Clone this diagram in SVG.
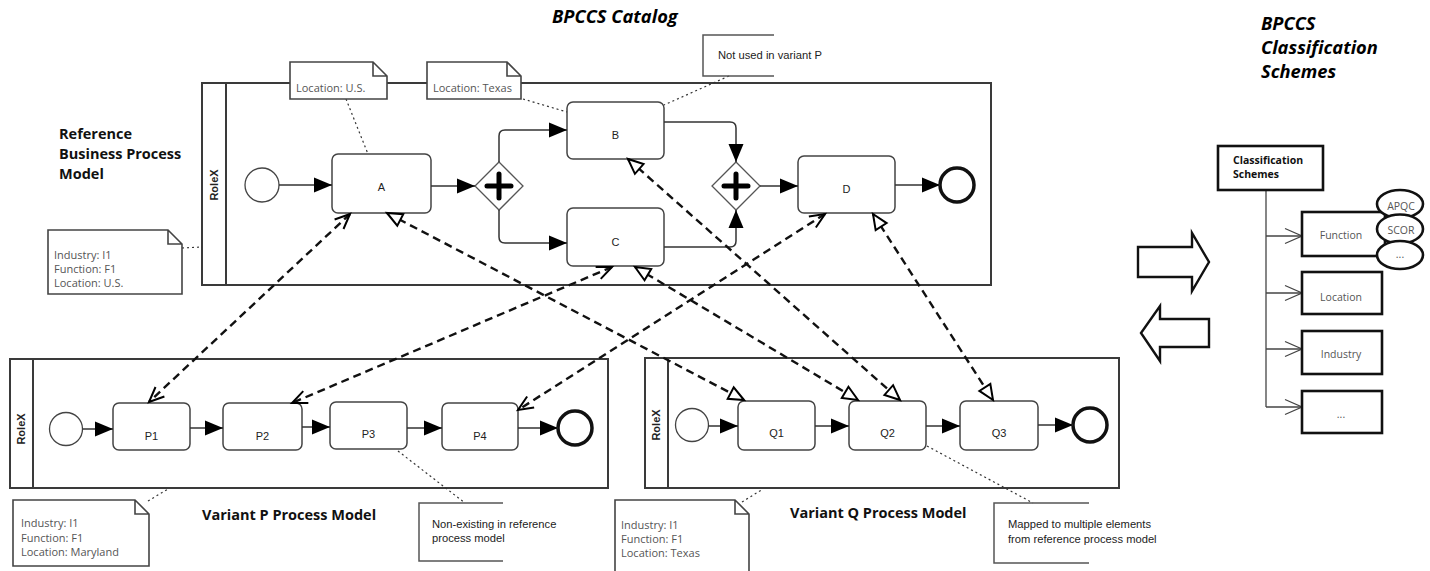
<svg xmlns="http://www.w3.org/2000/svg" width="1430" height="571" viewBox="0 0 1430 571">
  <style>
    .pool { fill: none; stroke: #3a3a3a; stroke-width: 2; }
    .task { fill: #fff; stroke: #444; stroke-width: 1.5; }
    .start { fill: #fff; stroke: #444; stroke-width: 1.3; }
    .end { fill: #fff; stroke: #111; stroke-width: 3.5; }
    .gw { fill: #fff; stroke: #555; stroke-width: 1.3; }
    .plus { stroke: #000; stroke-width: 5; stroke-linecap: round; fill: none; }
    .flow { fill: none; stroke: #333; stroke-width: 1.5; marker-end: url(#seq); }
    .map { fill: none; stroke: #111; stroke-width: 2.4; stroke-dasharray: 8 5; }
    .mv { marker-start: url(#vee); marker-end: url(#vee); }
    .mt { marker-start: url(#tri); marker-end: url(#tri); }
    .assoc { fill: none; stroke: #333; stroke-width: 1.2; stroke-dasharray: 2 3; }
    .note { fill: #fff; stroke: #444; stroke-width: 1.6; }
    .bracket { fill: none; stroke: #555; stroke-width: 1.5; }
    .lbl { font-family: "Liberation Sans", Arial, sans-serif; font-size: 11px; fill: #222; text-anchor: middle; }
    .ntxt { font-family: "Open Sans", "Noto Sans", sans-serif; font-size: 11px; fill: #555; }
    .btxt { font-family: "Liberation Sans", Arial, sans-serif; font-size: 11.2px; fill: #222; }
    .role { font-family: "Liberation Sans", Arial, sans-serif; font-size: 11px; font-weight: bold; fill: #222; text-anchor: middle; }
    .title { font-family: "Open Sans", "Noto Sans", sans-serif; font-size: 18.3px; font-weight: bold; font-style: italic; fill: #000; }
    .head { font-family: "Open Sans", "Noto Sans", sans-serif; font-size: 14.5px; font-weight: bold; fill: #111; }
    .cbox { fill: #fff; stroke: #111; stroke-width: 2.6; }
    .ctxt { font-family: "Open Sans", "Noto Sans", sans-serif; font-size: 10.5px; fill: #555; text-anchor: middle; }
    .tree { fill: none; stroke: #444; stroke-width: 1.3; }
    .branch { fill: none; stroke: #444; stroke-width: 1.3; marker-end: url(#open); }
    .block { fill: #fff; stroke: #111; stroke-width: 2.4; stroke-linejoin: miter; }
  </style>
  <defs>
    <marker id="seq" markerUnits="userSpaceOnUse" viewBox="-19 -8 20 16" refX="0" refY="0" markerWidth="20" markerHeight="16" orient="auto" overflow="visible">
      <path d="M0,0 L-18,-7.5 L-18,7.5 Z" fill="#000"/>
    </marker>
    <marker id="vee" markerUnits="userSpaceOnUse" viewBox="-16 -8 18 16" refX="0" refY="0" markerWidth="18" markerHeight="16" orient="auto-start-reverse" overflow="visible">
      <path d="M-15,-6.5 L0,0 L-15,6.5" fill="none" stroke="#000" stroke-width="2"/>
    </marker>
    <marker id="tri" markerUnits="userSpaceOnUse" viewBox="-16 -8 18 16" refX="0" refY="0" markerWidth="18" markerHeight="16" orient="auto-start-reverse" overflow="visible">
      <path d="M0,0 L-15,-6.5 L-15,6.5 Z" fill="#fff" stroke="#000" stroke-width="2"/>
    </marker>
    <marker id="open" markerUnits="userSpaceOnUse" viewBox="-18 -9 20 18" refX="0" refY="0" markerWidth="20" markerHeight="18" orient="auto" overflow="visible">
      <path d="M-17,-7.5 L0,0 L-17,7.5" fill="none" stroke="#444" stroke-width="1.3"/>
    </marker>
  </defs>

  <rect width="1430" height="571" fill="#fff"/>

  <!-- headings -->
  <text class="title" x="552" y="23">BPCCS Catalog</text>
  <g class="title">
    <text x="1261" y="30">BPCCS</text>
    <text x="1261" y="54">Classification</text>
    <text x="1261" y="78">Schemes</text>
  </g>
  <g class="head">
    <text x="59" y="139">Reference</text>
    <text x="59" y="159">Business Process</text>
    <text x="59" y="179">Model</text>
    <text x="202" y="520">Variant P Process Model</text>
    <text x="790" y="518">Variant Q Process Model</text>
  </g>

  <!-- reference process pool -->
  <g id="pool-ref">
    <rect class="pool" x="202" y="83" width="789" height="202"/>
    <line class="pool" x1="226" y1="83" x2="226" y2="285"/>
    <text class="role" transform="translate(218,185) rotate(-90)">RoleX</text>
  </g>
  <g id="ref-start"><circle class="start" cx="262" cy="185" r="17"/></g>
  <g id="task-a"><rect class="task" x="332" y="154" width="99" height="59" rx="6"/><text class="lbl" x="381.5" y="191">A</text></g>
  <g id="gw-split">
    <polygon class="gw" points="499,162 523,186 499,210 475,186"/>
    <path class="plus" d="M499,174 V198 M487,186 H511"/>
  </g>
  <g id="task-b"><rect class="task" x="567" y="102" width="97" height="57" rx="6"/><text class="lbl" x="615.5" y="139">B</text></g>
  <g id="task-c"><rect class="task" x="567" y="208" width="97" height="58" rx="6"/><text class="lbl" x="615.5" y="246">C</text></g>
  <g id="gw-join">
    <polygon class="gw" points="736,162 760,186 736,210 712,186"/>
    <path class="plus" d="M736,174 V198 M724,186 H748"/>
  </g>
  <g id="task-d"><rect class="task" x="798" y="156" width="97" height="57" rx="6"/><text class="lbl" x="846.5" y="193">D</text></g>
  <g id="ref-end"><circle class="end" cx="957" cy="185" r="17"/></g>

  <!-- variant P pool -->
  <g id="pool-p">
    <rect class="pool" x="10" y="359" width="598" height="129"/>
    <line class="pool" x1="33" y1="359" x2="33" y2="488"/>
    <text class="role" transform="translate(25,429) rotate(-90)">RoleX</text>
  </g>
  <g id="p-start"><circle class="start" cx="66" cy="429" r="16.5"/></g>
  <g id="task-p1"><rect class="task" x="113" y="403" width="77" height="47" rx="6"/><text class="lbl" x="151.5" y="440">P1</text></g>
  <g id="task-p2"><rect class="task" x="223" y="403" width="79" height="47" rx="6"/><text class="lbl" x="262.5" y="440">P2</text></g>
  <g id="task-p3"><rect class="task" x="330" y="402" width="77" height="47" rx="6"/><text class="lbl" x="368.5" y="438">P3</text></g>
  <g id="task-p4"><rect class="task" x="442" y="403" width="76" height="47" rx="6"/><text class="lbl" x="480" y="440">P4</text></g>
  <g id="p-end"><circle class="end" cx="575" cy="428" r="17"/></g>

  <!-- variant Q pool -->
  <g id="pool-q">
    <rect class="pool" x="645" y="358" width="474" height="130"/>
    <line class="pool" x1="668" y1="358" x2="668" y2="488"/>
    <text class="role" transform="translate(660,425) rotate(-90)">RoleX</text>
  </g>
  <g id="q-start"><circle class="start" cx="692" cy="425" r="16.5"/></g>
  <g id="task-q1"><rect class="task" x="738" y="401" width="77" height="49" rx="6"/><text class="lbl" x="776.5" y="437">Q1</text></g>
  <g id="task-q2"><rect class="task" x="849" y="401" width="77" height="49" rx="6"/><text class="lbl" x="887.5" y="437">Q2</text></g>
  <g id="task-q3"><rect class="task" x="960" y="401" width="78" height="49" rx="6"/><text class="lbl" x="999" y="437">Q3</text></g>
  <g id="q-end"><circle class="end" cx="1090" cy="425" r="17"/></g>

  <!-- connectors -->
  <g id="connectors">
    <!-- sequence flows -->
    <path class="flow" d="M279,185 H332"/>
    <path class="flow" d="M431,186 H475"/>
    <path class="flow" d="M499,162 V136 Q499,130 505,130 H567"/>
    <path class="flow" d="M499,210 V237 Q499,243 505,243 H567"/>
    <path class="flow" d="M664,122 H730 Q736,122 736,128 V162"/>
    <path class="flow" d="M664,247 H730 Q736,247 736,241 V210"/>
    <path class="flow" d="M760,186 H798"/>
    <path class="flow" d="M895,185 H940"/>

    <path class="flow" d="M82.5,429 H113"/>
    <path class="flow" d="M190,428 H223"/>
    <path class="flow" d="M302,427 H330"/>
    <path class="flow" d="M407,428 H442"/>
    <path class="flow" d="M518,428 H558"/>

    <path class="flow" d="M708.5,426 H738"/>
    <path class="flow" d="M815,426 H849"/>
    <path class="flow" d="M926,426 H960"/>
    <path class="flow" d="M1038,425 H1073"/>

    <!-- associations to annotations -->
    <path class="assoc" d="M346,99 L368,154"/>
    <path class="assoc" d="M523,99 L567,112"/>
    <path class="assoc" d="M729,76 L664,105"/>
    <path class="assoc" d="M182,248 L202,247"/>
    <path class="assoc" d="M148,501 L168,489"/>
    <path class="assoc" d="M398,451 L465,503"/>
    <path class="assoc" d="M742,502 L763,489"/>
    <path class="assoc" d="M927,446 L1033,503"/>

    <!-- element mappings -->
    <path class="map mv" d="M350,214 L149,402"/>
    <path class="map mv" d="M612,267 L292,403"/>
    <path class="map mv" d="M825,214 L518,410"/>
    <path class="map mt" d="M387,213 L744,400"/>
    <path class="map mt" d="M628,159 L900,400"/>
    <path class="map mt" d="M635,267 L858,400"/>
    <path class="map mt" d="M873,214 L993,400"/>

    <!-- classification tree -->
    <path class="tree" d="M1266,190 V407"/>
    <path class="branch" d="M1266,236 H1302"/>
    <path class="branch" d="M1266,293 H1302"/>
    <path class="branch" d="M1266,349 H1302"/>
    <path class="branch" d="M1266,407 H1302"/>
  </g>

  <!-- annotations -->
  <g id="note-us">
    <path class="note" d="M290,62 H373 L387,76 V99 H290 Z M373,62 V76 H387"/>
    <text class="ntxt" x="296" y="92">Location: U.S.</text>
  </g>
  <g id="note-texas">
    <path class="note" d="M427,62 H507 L521,76 V99 H427 Z M507,62 V76 H521"/>
    <text class="ntxt" x="433" y="92">Location: Texas</text>
  </g>
  <g id="note-unused">
    <path class="bracket" d="M774,35 H703 V76 H774"/>
    <text class="btxt" x="718" y="59">Not used in variant P</text>
  </g>
  <g id="note-ref">
    <path class="note" d="M48,230 H168 L182,244 V294 H48 Z M168,230 V244 H182"/>
    <text class="ntxt" x="54" y="259">Industry: I1</text>
    <text class="ntxt" x="54" y="273">Function: F1</text>
    <text class="ntxt" x="54" y="287">Location: U.S.</text>
  </g>
  <g id="note-p">
    <path class="note" d="M13,500 H135 L149,514 V566 H13 Z M135,500 V514 H149"/>
    <text class="ntxt" x="21" y="527">Industry: I1</text>
    <text class="ntxt" x="21" y="542">Function: F1</text>
    <text class="ntxt" x="21" y="556">Location: Maryland</text>
  </g>
  <g id="note-nonexisting">
    <path class="bracket" d="M503,503 H419 V561 H503"/>
    <text class="btxt" x="432" y="528">Non-existing in reference</text>
    <text class="btxt" x="432" y="542">process model</text>
  </g>
  <g id="note-q">
    <path class="note" d="M615,500 H735 L749,514 V580 H615 Z M735,500 V514 H749"/>
    <text class="ntxt" x="621" y="529">Industry: I1</text>
    <text class="ntxt" x="621" y="543">Function: F1</text>
    <text class="ntxt" x="621" y="557">Location: Texas</text>
  </g>
  <g id="note-mapped">
    <path class="bracket" d="M1089,503 H994 V563 H1089"/>
    <text class="btxt" x="1008" y="528">Mapped to multiple elements</text>
    <text class="btxt" x="1008" y="543">from reference process model</text>
  </g>

  <!-- exchange arrows -->
  <g id="arrow-to-schemes">
    <polygon class="block" points="1138,247 1192,247 1192,233 1209,262 1192,291 1192,277 1138,277"/>
  </g>
  <g id="arrow-from-schemes">
    <polygon class="block" points="1209,319 1160,319 1160,306 1141,333 1160,361 1160,347 1209,347"/>
  </g>

  <!-- classification schemes -->
  <g id="schemes-root">
    <rect class="cbox" x="1218" y="146" width="105" height="44"/>
    <text x="1233" y="164" font-family="'Open Sans', 'Noto Sans', sans-serif" font-size="10.5" font-weight="bold" fill="#111">Classification</text>
    <text x="1233" y="178" font-family="'Open Sans', 'Noto Sans', sans-serif" font-size="10.5" font-weight="bold" fill="#111">Schemes</text>
  </g>
  <g id="scheme-function">
    <rect class="cbox" x="1302" y="212" width="83" height="44"/>
    <text class="ctxt" x="1341" y="239">Function</text>
  </g>
  <g id="scheme-location">
    <rect class="cbox" x="1302" y="272" width="80" height="42"/>
    <text class="ctxt" x="1341" y="301">Location</text>
  </g>
  <g id="scheme-industry">
    <rect class="cbox" x="1302" y="331" width="80" height="43"/>
    <text class="ctxt" x="1341" y="358">Industry</text>
  </g>
  <g id="scheme-more">
    <rect class="cbox" x="1302" y="391" width="80" height="42"/>
    <text class="ctxt" x="1341" y="418">...</text>
  </g>
  <g id="std-apqc">
    <ellipse class="cbox" cx="1400" cy="204" rx="23" ry="14" stroke-width="2.2"/>
    <text class="ctxt" x="1401" y="210">APQC</text>
  </g>
  <g id="std-scor">
    <ellipse class="cbox" cx="1400" cy="229" rx="23" ry="14.5" stroke-width="2.2"/>
    <text class="ctxt" x="1401" y="234">SCOR</text>
  </g>
  <g id="std-more">
    <ellipse class="cbox" cx="1400" cy="255" rx="23" ry="14" stroke-width="2.2"/>
    <text class="ctxt" x="1400" y="258">...</text>
  </g>
</svg>
